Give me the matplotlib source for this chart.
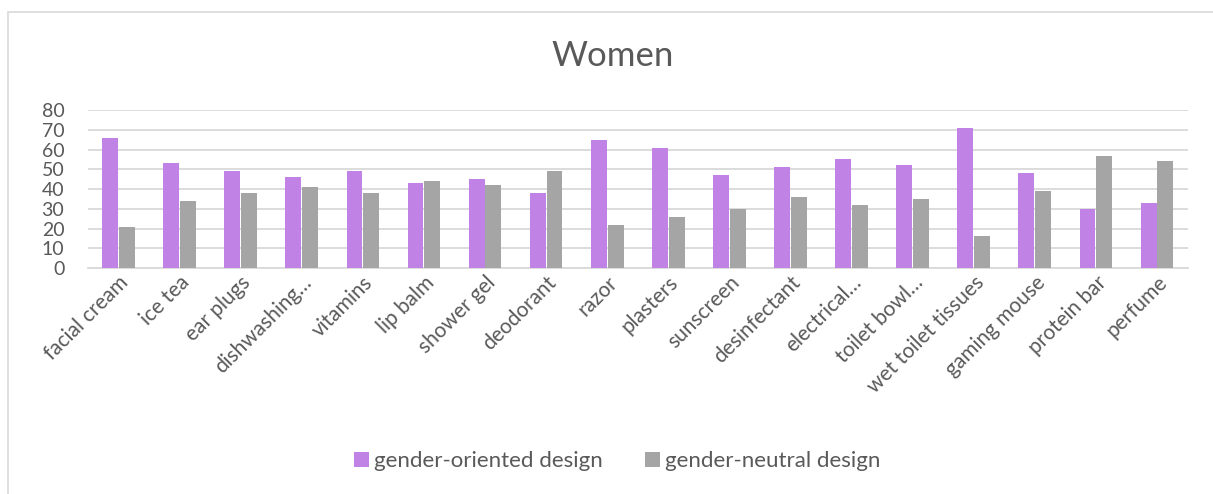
import numpy as np
import matplotlib
matplotlib.use('Agg')
import matplotlib.pyplot as plt
from matplotlib.patches import Rectangle

plt.rcParams['font.family'] = ['Lato', 'DejaVu Sans']

categories = ['facial cream', 'ice tea', 'ear plugs', 'dishwashing…', 'vitamins', 'lip balm',
              'shower gel', 'deodorant', 'razor', 'plasters', 'sunscreen', 'desinfectant',
              'electrical…', 'toilet bowl…', 'wet toilet tissues', 'gaming mouse',
              'protein bar', 'perfume']
oriented = [66, 53, 49, 46, 49, 43, 45, 38, 65, 61, 47, 51, 55, 52, 71, 48, 30, 33]
neutral = [21, 34, 38, 41, 38, 44, 42, 49, 22, 26, 30, 36, 32, 35, 16, 39, 57, 54]

fig = plt.figure(figsize=(12.13, 4.94), dpi=100)
ax = fig.add_axes([0.0725, 0.4575, 0.9065, 0.3195])

x = np.arange(len(categories))
w = 0.26
ax.bar(x - 0.137, oriented, w, color='#C082E4', label='gender-oriented design', zorder=3)
ax.bar(x + 0.137, neutral, w, color='#A5A5A5', label='gender-neutral design', zorder=3)

ax.set_xlim(-0.5, len(categories) - 0.5)
ax.set_ylim(0, 80)
ax.set_yticks(range(0, 81, 10))
ax.yaxis.grid(True, color='#D9D9D9', linewidth=1.3, zorder=0)
for s in ['top', 'right', 'left']:
    ax.spines[s].set_visible(False)
ax.spines['bottom'].set_color('#D9D9D9')
ax.spines['bottom'].set_linewidth(1.3)
ax.tick_params(length=0, colors='#595959')
ax.tick_params(axis='y', pad=17, labelsize=14)
ax.tick_params(axis='x', pad=3, labelsize=15)
ax.set_xticks(x)
ax.set_xticklabels(categories, rotation=45, ha='right', rotation_mode='anchor')

fig.text(0.505, 0.887, 'Women', ha='center', va='center', fontsize=25, color='#595959')

fig.legend(loc='center', bbox_to_anchor=(0.509, 0.067), ncol=2, frameon=False,
           fontsize=16, labelcolor='#595959', handlelength=0.65, handleheight=0.65,
           handletextpad=0.25, columnspacing=1.9)

# chart border: only top and left edges fall inside the image
fig.patches.append(Rectangle((0.0062, -0.05), 1.1, 1.026, transform=fig.transFigure,
                             fill=False, edgecolor='#D9D9D9', linewidth=1.2))

fig.savefig('out.png', dpi=100)
